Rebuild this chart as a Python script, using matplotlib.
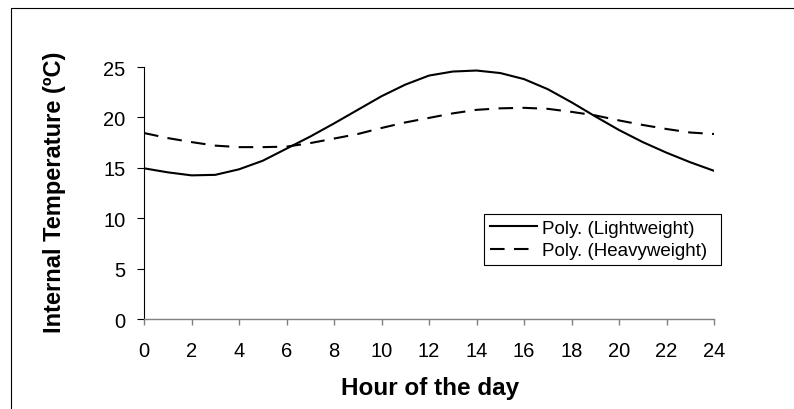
import matplotlib
matplotlib.use("Agg")
import matplotlib.pyplot as plt
from matplotlib.patches import Rectangle

plt.rcParams['font.family'] = ['Liberation Sans', 'DejaVu Sans']

# Hour of day and fitted temperature curves
hours = list(range(25))
lightweight = [14.95, 14.55, 14.25, 14.3, 14.85, 15.7, 16.9, 18.1, 19.4, 20.75,
               22.1, 23.25, 24.15, 24.55, 24.65, 24.4, 23.8, 22.8, 21.5, 20.1,
               18.75, 17.55, 16.5, 15.55, 14.7]
heavyweight = [18.45, 17.95, 17.55, 17.2, 17.05, 17.05, 17.1, 17.45, 17.9, 18.35,
               18.95, 19.5, 19.95, 20.4, 20.75, 20.9, 20.95, 20.85, 20.55, 20.2,
               19.7, 19.25, 18.85, 18.5, 18.35]

x_ticks = list(range(0, 25, 2))
y_ticks = [0, 5, 10, 15, 20, 25]

fig = plt.figure(figsize=(7.94, 4.10), dpi=100)
ax = fig.add_axes([144 / 794, 1 - 320 / 410, 570 / 794, 252 / 410])

ax.plot(hours, lightweight, color='black', linewidth=1.5, label='Poly. (Lightweight)')
ax.plot(hours, heavyweight, color='black', linewidth=1.5, dashes=(7, 4.5),
        label='Poly. (Heavyweight)')

ax.set_xlim(0, 24)
ax.set_ylim(0, 25)
ax.set_xticks(x_ticks)
ax.set_yticks(y_ticks)

for side in ['top', 'right']:
    ax.spines[side].set_visible(False)
ax.spines['left'].set_color('black')
ax.spines['left'].set_linewidth(0.8)
ax.spines['bottom'].set_color('#808080')
ax.spines['bottom'].set_linewidth(1.0)

ax.tick_params(axis='x', direction='out', length=4, width=1.0, color='#808080',
               labelsize=14.5, labelcolor='black', pad=12)
ax.tick_params(axis='y', direction='out', length=5.2, width=0.8, color='black',
               labelsize=14.5, pad=8)

ax.set_xlabel('Hour of the day', fontsize=17.5, fontweight='bold')
ax.set_ylabel('Internal Temperature (ºC)', fontsize=17, fontweight='bold')
ax.xaxis.set_label_coords(0.502, -0.228)
ax.yaxis.set_label_coords(-0.137, 0.506)

leg = ax.legend(loc='upper left',
                bbox_to_anchor=(484 / 794, 1 - 270 / 410, 237 / 794, 55 / 410),
                bbox_transform=fig.transFigure, mode='expand', borderaxespad=0,
                fontsize=13.5, frameon=True, fancybox=False, edgecolor='black',
                framealpha=1, handlelength=2.5, handletextpad=0.3,
                borderpad=0.3, labelspacing=0.3)
leg.get_frame().set_linewidth(0.8)

# outer chart border (cut off at right and bottom)
fig.patches.append(Rectangle((10.5 / 794, -0.2), 1.2, 1.2 - 9 / 410,
                             transform=fig.transFigure, fill=False,
                             edgecolor='black', linewidth=0.8))

fig.savefig('out.png', dpi=100)
